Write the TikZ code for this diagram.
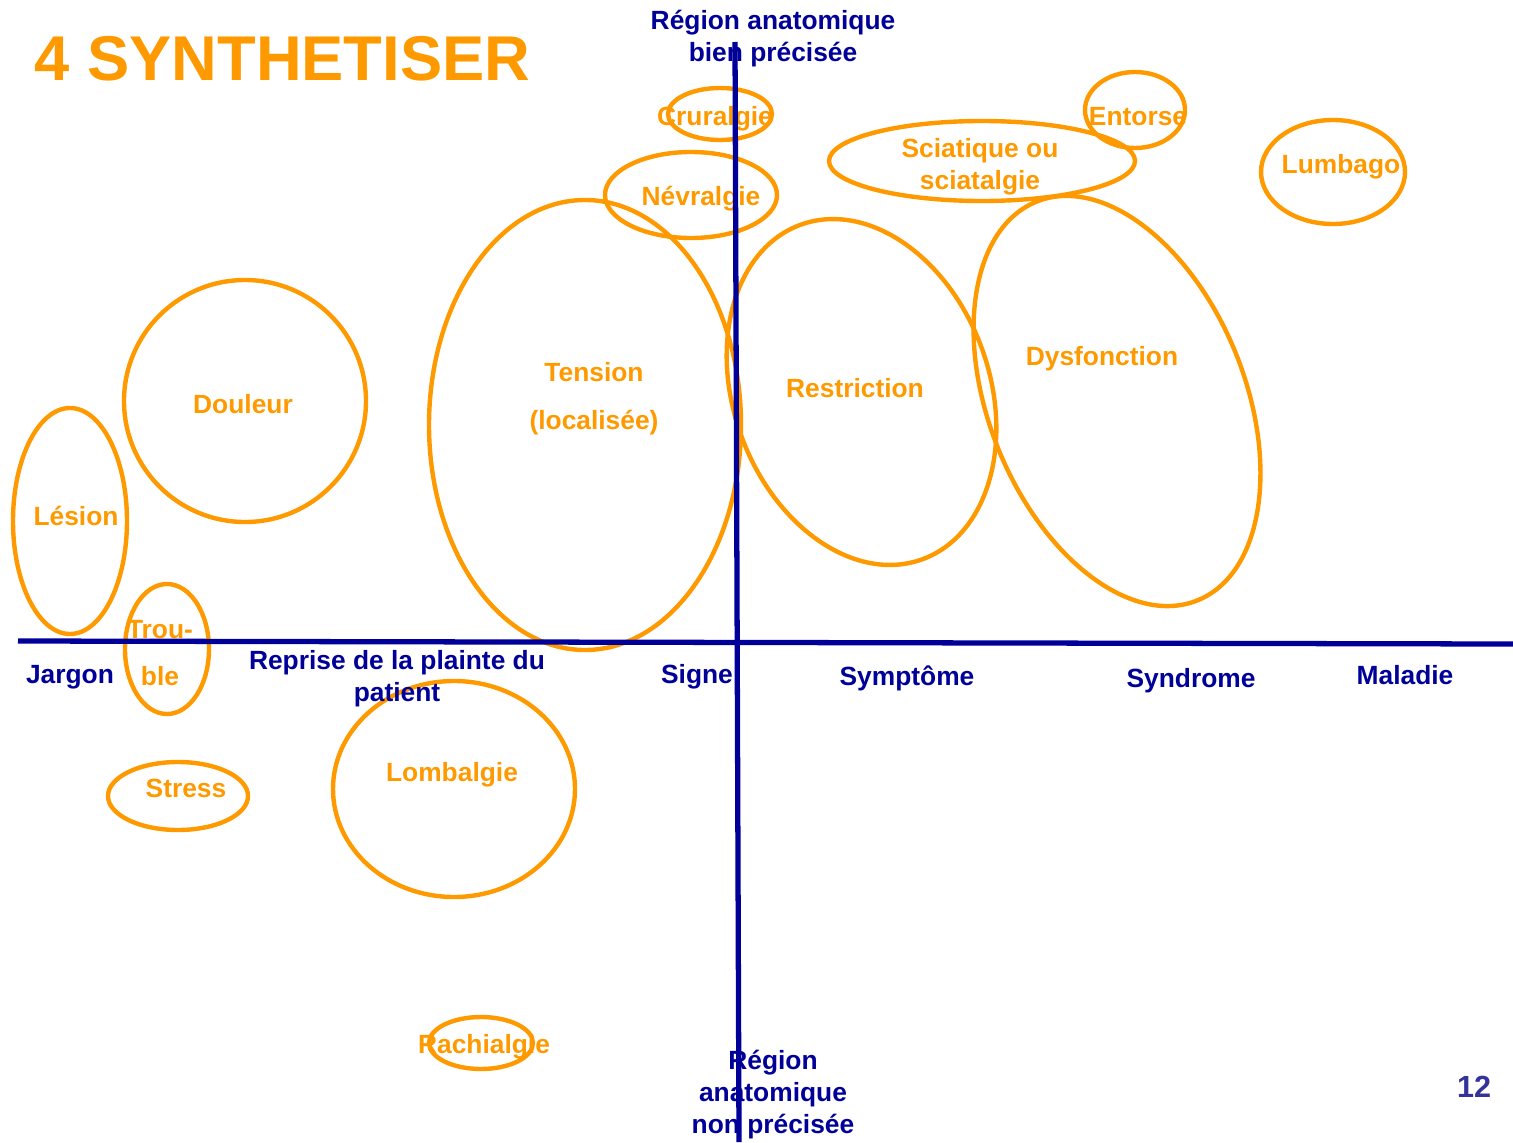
\documentclass[tikz,border=0pt]{standalone}
\usepackage{fontspec}
\setmainfont{Liberation Sans}
\usetikzlibrary{shapes.geometric}
\definecolor{synorange}{RGB}{255,153,0}
\definecolor{synblue}{RGB}{0,0,153}
\definecolor{pageblue}{RGB}{51,51,153}
\begin{document}
\begin{tikzpicture}[
    ring/.style={draw=synorange, line width=1.25pt},
    term/.style={text=synorange, font=\bfseries\fontsize{7.5}{9.1}\selectfont, align=center, inner sep=0pt},
    axislabel/.style={text=synblue, font=\bfseries\fontsize{7.5}{9.1}\selectfont, align=center, inner sep=0pt},
    axisline/.style={draw=synblue, line width=1.5pt}
  ]
  \useasboundingbox (0,0) rectangle (15.13,11.42);

  % the ellipses round the terms
  \draw[ring] (0.70,6.21) ellipse [x radius=0.57, y radius=1.13];
  \draw[ring] (2.45,7.41) ellipse [x radius=1.21, y radius=1.21];
  \draw[ring] (1.67,4.93) ellipse [x radius=0.42, y radius=0.65];
  \draw[ring] (1.78,3.46) ellipse [x radius=0.70, y radius=0.34];
  \draw[ring] (4.54,3.53) ellipse [x radius=1.21, y radius=1.08];
  \draw[ring] (4.81,0.99) ellipse [x radius=0.52, y radius=0.26];
  \draw[ring] (5.85,7.17) ellipse [x radius=1.56, y radius=2.25];
  \draw[ring] (6.91,9.47) ellipse [x radius=0.86, y radius=0.43];
  \draw[ring] (7.20,10.28) ellipse [x radius=0.52, y radius=0.26];
  \draw[ring] (8.615,7.50) ellipse [x radius=1.28, y radius=1.78, rotate=20];
  \draw[ring] (11.17,7.41) ellipse [x radius=1.28, y radius=2.15, rotate=22];
  \draw[ring] (9.82,9.81) ellipse [x radius=1.53, y radius=0.40];
  \draw[ring] (11.35,10.32) ellipse [x radius=0.50, y radius=0.38];
  \draw[ring] (13.33,9.70) ellipse [x radius=0.72, y radius=0.52];

  % title and page number
  \node[text=synorange, font=\bfseries\fontsize{18}{21}\selectfont, anchor=base west, inner sep=0pt] (title) at (0.34,10.61) {4 SYNTHETISER};
  \node[text=pageblue, font=\bfseries\fontsize{8.7}{10}\selectfont, inner sep=0pt] (page) at (14.74,0.55) {12};

  % terms
  \node[term] (cruralgie) at (7.15,10.23) {Cruralgie};
  \node[term] (nevralgie) at (7.01,9.43) {Névralgie};
  \node[term] (sciatique) at (9.80,9.75) {Sciatique ou\\sciatalgie};
  \node[term] (entorse) at (11.38,10.25) {Entorse};
  \node[term] (lumbago) at (13.41,9.75) {Lumbago};
  \node[term] (douleur) at (2.43,7.38) {Douleur};
  \node[term] (tension) at (5.94,7.43) {Tension\\[4.5pt](localisée)};
  \node[term] (restriction) at (8.55,7.54) {Restriction};
  \node[term] (dysfonction) at (11.02,7.83) {Dysfonction};
  \node[term] (lesion) at (0.76,6.26) {Lésion};
  \node[term] (trouble) at (1.60,4.89) {Trou-\\[4.5pt]ble};
  \node[term] (stress) at (1.86,3.54) {Stress};
  \node[term] (lombalgie) at (4.52,3.67) {Lombalgie};
  \node[term] (rachialgie) at (4.84,0.95) {Rachialgie};

  % labels of the axes
  \node[axislabel] (jargon) at (0.70,4.65) {Jargon};
  \node[axislabel] (reprise) at (3.97,4.63) {Reprise de la plainte du\\patient};
  \node[axislabel] (signe) at (6.97,4.65) {Signe};
  \node[axislabel] (symptome) at (9.07,4.64) {Symptôme};
  \node[axislabel] (syndrome) at (11.91,4.61) {Syndrome};
  \node[axislabel] (maladie) at (14.05,4.67) {Maladie};
  \node[axislabel] (precise) at (7.73,11.03) {Région anatomique\\bien précisée};
  \node[axislabel] (nonprecise) at (7.73,0.47) {Région\\anatomique\\non précisée};

  % axes
  \coordinate (west) at (0.18,5.01);
  \coordinate (east) at (15.13,4.98);
  \coordinate (north) at (7.35,11.00);
  \coordinate (south) at (7.39,0);
  \draw[axisline] (west) -- (east);
  \draw[axisline] (north) -- (south);
\end{tikzpicture}
\end{document}
